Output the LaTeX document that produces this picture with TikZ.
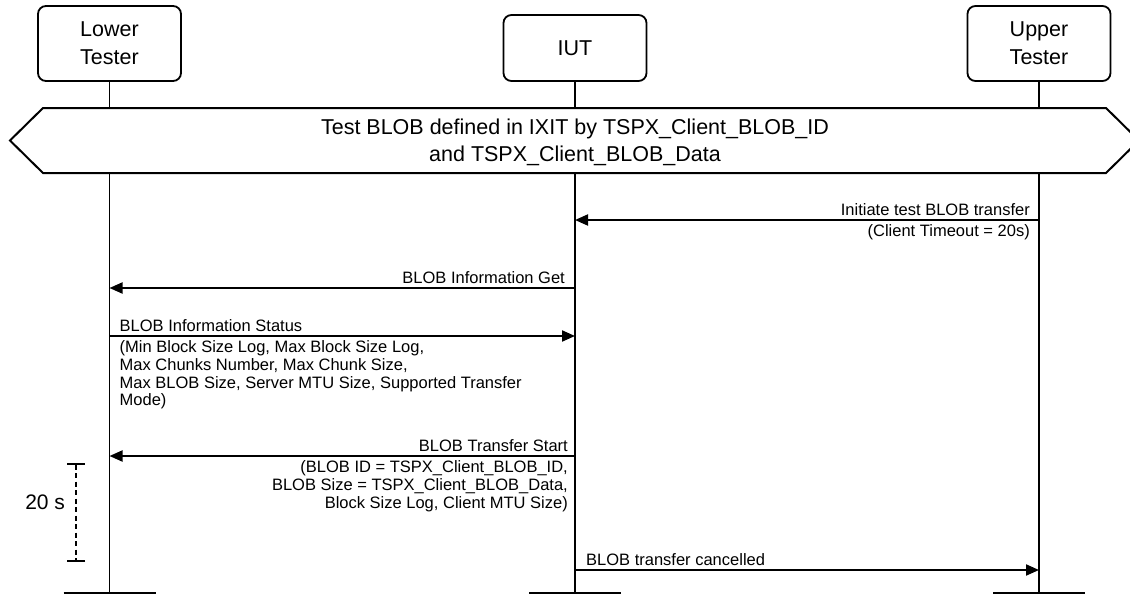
\documentclass[tikz,border=0pt]{standalone}
\usepackage{fontspec}
\setmainfont{Liberation Sans}
\usepackage{tikz}
\usetikzlibrary{positioning,calc}
\usetikzlibrary{arrows.meta}
\tikzset{
	actor/.style={draw=black,fill=white,line width=1.8pt,rounded corners=8pt,
		minimum width=143pt,inner sep=0pt,align=center,font=\fontsize{21.5}{28}\selectfont},
	life/.style={draw=black,line width=1.8pt},
	foot/.style={draw=black,line width=5pt},
	msg/.style={draw=black,line width=2pt,-{Triangle[length=13pt,width=11pt]}},
	lbl/.style={inner sep=0pt,font=\fontsize{16.5}{17.7}\selectfont},
	timer/.style={draw=black,line width=2pt,dash pattern=on 5pt off 3.5pt,
		{Bar[width=18pt]}-{Bar[width=18pt]}},
}

\begin{document}
\begin{tikzpicture}[x=1pt,y=-1pt]
	\useasboundingbox (0,0) rectangle (1130,594);
	\coordinate (base) at (0,594);
	% lifelines
	\node[actor,minimum height=75pt] (lt) at (109.5,43.5) {Lower\\Tester};
	\node[actor,minimum height=66pt] (iut) at (575,48) {IUT};
	\node[actor,minimum height=75pt] (ut) at (1039,43.5) {Upper\\Tester};
	\foreach \p in {lt,iut,ut}{
		\coordinate (\p-end) at (\p.south |- base);
		\draw[life] (\p) -- (\p-end);
		\draw[foot] ([xshift=-46pt]\p-end) -- ([xshift=46pt]\p-end);
	}
	% preamble condition
	\draw[line width=2pt,fill=white] (10,140.5) -- (43,108) -- (1106,108) -- (1139,140.5)
		-- (1106,173) -- (43,173) -- cycle;
	\node[align=center,font=\fontsize{21.5}{27}\selectfont] (setup) at (575,142)
		{Test BLOB defined in IXIT by TSPX\_Client\_BLOB\_ID\\and TSPX\_Client\_BLOB\_Data};
	% message rows
	\foreach \n/\y in {a/220,b/288,c/336,d/456,e/570}{
		\coordinate (r\n) at (0,\y);
		\foreach \p in {lt,iut,ut}
			\coordinate (\p-\n) at (\p |- r\n);
	}
	\draw[msg] (ut-a) -- (iut-a);
	\node[lbl,above left=4.5pt and 9pt of ut-a] (a1) {Initiate test BLOB transfer};
	\node[lbl,below left=4.5pt and 9pt of ut-a] (a2) {(Client Timeout = 20s)};
	\draw[msg] (iut-b) -- (lt-b);
	\node[lbl,above left=4.5pt and 10pt of iut-b] (b1) {BLOB Information Get};
	\draw[msg] (lt-c) -- (iut-c);
	\node[lbl,above right=4.5pt and 10pt of lt-c] (c1) {BLOB Information Status};
	\node[lbl,below right=4.5pt and 10pt of lt-c,align=left] (c2)
		{(Min Block Size Log, Max Block Size Log,\\Max Chunks Number, Max Chunk Size,\\
		Max BLOB Size, Server MTU Size, Supported Transfer\\Mode)};
	\draw[msg] (iut-d) -- (lt-d);
	\node[lbl,above left=4.5pt and 7pt of iut-d] (d1) {BLOB Transfer Start};
	\node[lbl,below left=4.5pt and 7pt of iut-d,align=right] (d2)
		{(BLOB ID = TSPX\_Client\_BLOB\_ID,\\BLOB Size = TSPX\_Client\_BLOB\_Data,\\
		Block Size Log, Client MTU Size)};
	\draw[msg] (iut-e) -- (ut-e);
	\node[lbl,above right=4.5pt and 11pt of iut-e] (e1) {BLOB transfer cancelled};
	% guard timer
	\coordinate (t1) at (76,463);
	\coordinate (t2) at (76,562);
	\draw[timer] (t1) -- node[pos=0.4,left=10pt,inner sep=0pt,font=\fontsize{21}{25}\selectfont] (tl) {20 s} (t2);
\end{tikzpicture}
\end{document}
